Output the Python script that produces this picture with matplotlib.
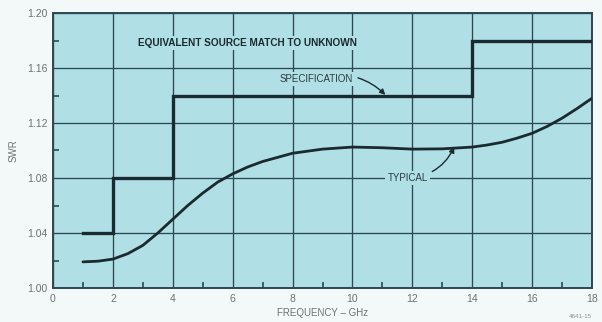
import matplotlib
matplotlib.use("Agg")
import matplotlib.pyplot as plt
from matplotlib.ticker import MultipleLocator

plt.rcParams['font.family'] = ['Liberation Sans', 'DejaVu Sans']

# Specification limit (step function): breakpoints in GHz and SWR level per band
spec_freq = [1, 2, 2, 4, 4, 14, 14, 18]
spec_swr = [1.04, 1.04, 1.08, 1.08, 1.14, 1.14, 1.18, 1.18]

# Typical measured source match
typ_freq = [1, 1.5, 2, 2.5, 3, 3.5, 4, 4.5, 5, 5.5, 6, 6.5, 7, 7.5, 8, 9, 10,
            11, 12, 13, 14, 14.5, 15, 15.5, 16, 16.5, 17, 17.5, 18]
typ_swr = [1.019, 1.0195, 1.021, 1.025, 1.031, 1.040, 1.050, 1.060, 1.069,
           1.077, 1.083, 1.088, 1.092, 1.095, 1.098, 1.101, 1.1025, 1.102,
           1.101, 1.1012, 1.1025, 1.104, 1.106, 1.109, 1.1125, 1.1175, 1.1235,
           1.1305, 1.138]

x_ticks = [0, 2, 4, 6, 8, 10, 12, 14, 16, 18]
y_ticks = [1.00, 1.04, 1.08, 1.12, 1.16, 1.20]
y_tick_labels = ["1.00", "1.04", "1.08", "1.12", "1.16", "1.20"]

bg = "#b0e0e5"
ink = "#1a2a30"
grid_c = "#2c4850"
label_c = "#6b7375"

fig = plt.figure(figsize=(6.02, 3.22), dpi=100, facecolor="#f3f8f9")
ax = fig.add_axes([53 / 602, 34 / 322, 539 / 602, 275 / 322])
ax.set_facecolor(bg)

ax.set_xlim(0, 18)
ax.set_ylim(1.00, 1.20)
ax.set_xticks(x_ticks)
ax.set_yticks(y_ticks)
ax.set_yticklabels(y_tick_labels)
ax.xaxis.set_minor_locator(MultipleLocator(1))
ax.yaxis.set_minor_locator(MultipleLocator(0.02))

ax.grid(True, which="major", color=grid_c, linewidth=0.95, zorder=1)
ax.set_axisbelow(True)
ax.tick_params(which="major", length=0, labelsize=7.5, labelcolor=label_c, pad=4)
ax.tick_params(which="minor", direction="in", length=4, width=1.2, color=grid_c)
for s in ax.spines.values():
    s.set_color(grid_c)
    s.set_linewidth(1.4)

ax.plot(spec_freq, spec_swr, color=ink, linewidth=2.4, solid_joinstyle="miter", zorder=4)
ax.plot(typ_freq, typ_swr, color=ink, linewidth=2.0, solid_joinstyle="round",
        solid_capstyle="round", zorder=4)

box = dict(facecolor=bg, edgecolor="none", pad=1.5)
ax.text(2.83, 1.178, "EQUIVALENT SOURCE MATCH TO UNKNOWN", fontsize=7.2,
        fontweight="bold", color=ink, va="center", ha="left", bbox=box, zorder=3)

ax.annotate("SPECIFICATION", xy=(11.1, 1.1405), xytext=(7.58, 1.152),
            fontsize=7, color="#2b3a40", va="center", ha="left", bbox=box, zorder=3,
            arrowprops=dict(arrowstyle="-|>", color=ink, lw=1.0, mutation_scale=8,
                            shrinkA=2, shrinkB=0, connectionstyle="arc3,rad=-0.3"))

ax.annotate("TYPICAL", xy=(13.4, 1.1025), xytext=(11.17, 1.080),
            fontsize=7, color="#2b3a40", va="center", ha="left", bbox=box, zorder=3,
            arrowprops=dict(arrowstyle="-|>", color=ink, lw=1.0, mutation_scale=8,
                            shrinkA=2, shrinkB=0, connectionstyle="arc3,rad=0.3"))

ax.set_xlabel("FREQUENCY \u2013 GHz", fontsize=7, color=label_c, labelpad=3)
ax.set_ylabel("SWR", fontsize=7, color=label_c, labelpad=6)

fig.text(0.965, 0.012, "4641-15", fontsize=4.5, color="#8a9294", ha="center")

fig.savefig("out.png", dpi=100, facecolor=fig.get_facecolor())
